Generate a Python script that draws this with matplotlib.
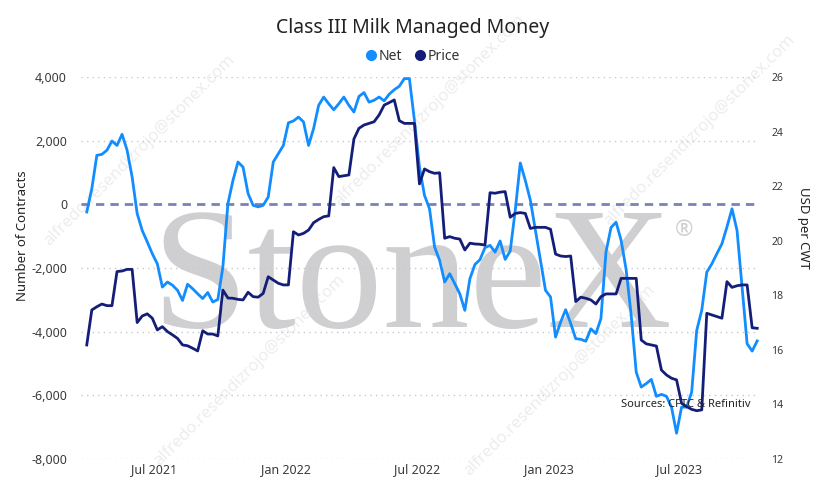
import matplotlib
matplotlib.use("Agg")
import matplotlib.pyplot as plt
from matplotlib.lines import Line2D
from matplotlib.ticker import FuncFormatter, FixedLocator
import pandas as pd

# ---------------- data ----------------
start_date = "2021-03-30"  # weekly CFTC report dates (Tuesdays)

net = [-240, 490, 1540, 1570, 1700, 1990, 1850, 2200, 1700, 860,
       -290, -820, -1180, -1550, -1870, -2600, -2440, -2540, -2700, -3020,
       -2510, -2650, -2810, -2960, -2770, -3070, -2990, -1970, 20, 750,
       1330, 1170, 340, -30, -80, -30, 230, 1330, 1590, 1850,
       2560, 2620, 2740, 2590, 1850, 2380, 3110, 3370, 3160, 2970,
       3160, 3370, 3110, 2900, 3390, 3510, 3210, 3270, 3370, 3250,
       3460, 3600, 3710, 3950, 3950, 2640, 1170, 280, -140, -1340,
       -1760, -2440, -2180, -2490, -2810, -3330, -2340, -1890, -1740, -1360,
       -1290, -1500, -1150, -1730, -1470, -190, 1300, 750, 130, -820,
       -1760, -2700, -2910, -4170, -3700, -3310, -3740, -4220, -4240, -4300,
       -3910, -4060, -3590, -1500, -730, -560, -1130, -2050, -3480, -5270,
       -5740, -5630, -5500, -6030, -5970, -6030, -6370, -7190, -6370, -6370,
       -5900, -3960, -3330, -2130, -1870, -1550, -1240, -710, -140, -820,
       -2600, -4380, -4610, -4290]

price = [16.18, 17.46, 17.58, 17.68, 17.62, 17.62, 18.87, 18.89, 18.95, 18.95,
         17.00, 17.24, 17.32, 17.16, 16.73, 16.85, 16.67, 16.55, 16.42, 16.18,
         16.15, 16.06, 15.96, 16.70, 16.58, 16.58, 16.51, 18.19, 17.90, 17.89,
         17.85, 17.83, 18.11, 17.95, 17.93, 18.07, 18.68, 18.56, 18.44, 18.38,
         18.38, 20.33, 20.21, 20.27, 20.39, 20.66, 20.78, 20.88, 20.91, 22.68,
         22.35, 22.38, 22.41, 23.73, 24.12, 24.24, 24.30, 24.36, 24.61, 24.97,
         25.06, 25.16, 24.40, 24.30, 24.30, 24.30, 22.08, 22.63, 22.53, 22.47,
         22.49, 20.09, 20.15, 20.09, 20.06, 19.66, 19.91, 19.88, 19.87, 19.84,
         21.76, 21.74, 21.78, 21.80, 20.86, 21.00, 21.03, 21.00, 20.45, 20.49,
         20.49, 20.49, 20.42, 19.51, 19.44, 19.42, 19.44, 17.77, 17.93, 17.89,
         17.83, 17.68, 17.95, 18.05, 18.05, 18.05, 18.62, 18.62, 18.62, 18.62,
         16.36, 16.22, 16.18, 16.14, 15.26, 15.08, 14.96, 14.90, 14.04, 13.92,
         13.82, 13.77, 13.80, 17.34, 17.28, 17.22, 17.16, 18.50, 18.29, 18.35,
         18.38, 18.38, 16.81, 16.79]

left_ticks = [-8000, -6000, -4000, -2000, 0, 2000, 4000]
right_ticks = [12, 14, 16, 18, 20, 22, 24, 26]
x_tick_dates = ["2021-07-01", "2022-01-01", "2022-07-01", "2023-01-01", "2023-07-01"]
x_tick_labels = ["Jul 2021", "Jan 2022", "Jul 2022", "Jan 2023", "Jul 2023"]

dates = pd.date_range(start_date, periods=len(net), freq="7D")

# ---------------- style ----------------
FONT = ["Noto Sans", "DejaVu Sans"]
plt.rcParams["font.family"] = FONT
NET_C = "#118DFF"
PRICE_C = "#141E78"
TXT = "#3B3B3B"

W, H = 821, 490
fig = plt.figure(figsize=(W / 100, H / 100), dpi=100)
fig.patch.set_facecolor("white")

# faint e-mail watermarks (kept inside the canvas)
email = "alfredo.resendizrojo@stonex.com"
for (px, py) in [(140, 150), (430, 110), (700, 130), (250, 370), (560, 380)]:
    fig.text(px / W, 1 - py / H, email, rotation=45, ha="center", va="center",
             fontsize=12, color="#EDEDED", zorder=-5, family=FONT)

# StoneX logo watermark
fig.text(412 / W, 1 - 327 / H, "StoneX", ha="center", va="baseline",
         fontsize=125, color="#CFCFD1", family=["Liberation Serif", "DejaVu Serif"],
         zorder=-4)
fig.text(684 / W, 1 - 230 / H, "\u00ae", ha="center", va="center",
         fontsize=16, color="#CFCFD1", zorder=-4)

ax = fig.add_axes([81 / W, 1 - 459 / H, (759 - 81) / W, (459 - 77) / H])
ax.patch.set_alpha(0)
ax2 = ax.twinx()

ax.plot(dates, net, color=NET_C, lw=2.0, solid_joinstyle="round", zorder=3)
ax2.plot(dates, price, color=PRICE_C, lw=2.0, solid_joinstyle="round", zorder=3)

ax.set_ylim(-8000, 4000)
ax2.set_ylim(12, 26)
ax.set_xlim(pd.Timestamp("2021-03-22"), pd.Timestamp("2023-10-19 12:00"))

ax.yaxis.set_major_locator(FixedLocator(left_ticks))
ax.yaxis.set_major_formatter(FuncFormatter(lambda v, p: f"{int(v):,}"))
ax2.yaxis.set_major_locator(FixedLocator(right_ticks))
ax.set_xticks(pd.to_datetime(x_tick_dates))
ax.set_xticklabels(x_tick_labels)

for t in left_ticks:
    if t != 0:
        ax.axhline(t, color="#C9C9C9", lw=1.0, ls=(0, (1, 3)), zorder=1)
ax.axhline(0, color="#7C80B8", lw=2.0, ls=(0, (3, 2.2)), zorder=2)

for a in (ax, ax2):
    for s in a.spines.values():
        s.set_visible(False)
ax.tick_params(axis="y", length=0, pad=10, labelsize=9, labelcolor=TXT)
ax.tick_params(axis="x", length=0, pad=3, labelsize=9, labelcolor=TXT)
ax2.tick_params(axis="y", length=0, pad=9, labelsize=7.5, labelcolor=TXT)

# titles and labels
fig.text(413 / W, 1 - 28 / H, "Class III Milk Managed Money", ha="center", va="center",
         fontsize=14, color="#222222")
fig.text(22 / W, 1 - 236 / H, "Number of Contracts", rotation=90, ha="center", va="center",
         fontsize=9.5, color="#222222")
fig.text(803 / W, 1 - 228 / H, "USD per CWT", rotation=270, ha="center", va="center",
         fontsize=9.5, color="#222222")
fig.text(621 / W, 1 - 404 / H, "Sources: CFTC & Refinitiv", ha="left", va="center",
         fontsize=8, color="#222222")

handles = [Line2D([], [], marker="o", ls="", color=NET_C, markersize=7),
           Line2D([], [], marker="o", ls="", color=PRICE_C, markersize=7)]
fig.legend(handles, ["Net", "Price"], loc="center", bbox_to_anchor=(412 / W, 1 - 56 / H),
           ncol=2, frameon=False, handletextpad=0.05, columnspacing=0.8,
           handlelength=1.0, fontsize=10, labelcolor="#333333")

fig.savefig("out.png", dpi=100)
